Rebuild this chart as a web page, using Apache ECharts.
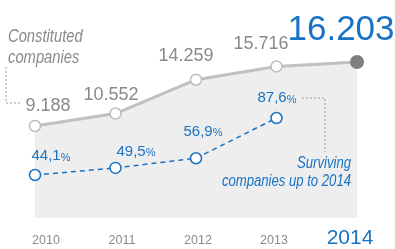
<!DOCTYPE html>
<html>
<head>
<meta charset="utf-8">
<script src="https://cdn.jsdelivr.net/npm/echarts@6/dist/echarts.min.js"></script>
<style>
  html, body { margin: 0; padding: 0; background: #fff; }
  #chart { width: 395px; height: 249px; }
</style>
</head>
<body>
<div id="chart"></div>
<script>
var years = ['2010', '2011', '2012', '2013', '2014'];
var constituted = [9188, 10552, 14259, 15716, 16203];   // companies constituted
var surviving = [44.1, 49.5, 56.9, 87.6];               // % surviving up to 2014

var FONT = '"Liberation Sans", Arial, sans-serif';
var GREY_TXT = '#8a8a8a';
var BLUE = '#1a72c2';

function thousands(v) {
  var r = String(v % 1000);
  while (r.length < 3) r = '0' + r;
  return Math.floor(v / 1000) + '.' + r;
}
function pct(v) {
  return v.toFixed(1).replace('.', ',');
}

// label offsets from each point (x, y)
var greyShift = [[13, -19.5], [-4.5, -18.5], [-10, -24], [-15.5, -22], [-16, -32]];
var blueShift = [[16, -19], [20.5, -16], [7, -26.5], [0.5, -20]];

var greyData = constituted.map(function (v, i) {
  var last = i === constituted.length - 1;
  return {
    value: v,
    symbolSize: last ? 14 : 11,
    itemStyle: last ? { color: '#7f7f7f', borderWidth: 0 } : { color: '#fff', borderColor: '#bdbdbd', borderWidth: 1.5 },
    label: {
      show: true,
      position: 'inside',
      offset: greyShift[i],
      formatter: thousands(v),
      fontFamily: FONT,
      fontSize: last ? 35 : 18,
      color: last ? BLUE : GREY_TXT
    }
  };
});

var blueData = surviving.map(function (v, i) {
  return {
    value: v,
    label: {
      show: true,
      position: 'inside',
      offset: blueShift[i],
      formatter: '{n|' + pct(v) + '}{p|%}'
    }
  };
});

var chart = echarts.init(document.getElementById('chart'), null, { renderer: 'canvas' });

var option = {
  animation: false,
  backgroundColor: '#fff',
  grid: [
    { left: 35, right: 38, top: 10, bottom: 31, outerBoundsMode: 'none' },
    { left: 8, right: 7, top: 10, bottom: 31, outerBoundsMode: 'none' }
  ],
  xAxis: [
    { type: 'category', gridIndex: 0, data: years, boundaryGap: false, show: false },
    {
      type: 'category', gridIndex: 1, boundaryGap: true,
      data: years.map(function (y, i) {
        return i === years.length - 1
          ? { value: y, textStyle: { fontSize: 21, color: BLUE, lineHeight: 18 } }
          : y;
      }),
      axisLine: { show: false }, axisTick: { show: false }, splitLine: { show: false },
      axisLabel: { margin: 11, lineHeight: 24, fontFamily: FONT, fontSize: 12.5, color: GREY_TXT }
    }
  ],
  yAxis: [
    { type: 'value', gridIndex: 0, min: -900, max: 21900, show: false },
    { type: 'value', gridIndex: 0, min: 11.3, max: 170, show: false },
    { type: 'value', gridIndex: 1, show: false }
  ],
  series: [
    {
      type: 'line',
      xAxisIndex: 0, yAxisIndex: 0,
      data: greyData,
      symbol: 'circle',
      lineStyle: { color: '#c0c0c0', width: 3 },
      areaStyle: { color: '#eeeeee', origin: 'start', opacity: 1 },
      z: 2
    },
    {
      type: 'line',
      xAxisIndex: 0, yAxisIndex: 1,
      data: blueData,
      symbol: 'circle',
      symbolSize: 11,
      itemStyle: { color: '#fff', borderColor: BLUE, borderWidth: 1.5 },
      lineStyle: { color: BLUE, width: 1.5, type: [5, 4] },
      label: {
        rich: {
          n: { fontFamily: FONT, fontSize: 15, color: BLUE },
          p: { fontFamily: FONT, fontSize: 11, color: BLUE, padding: [3, 0, 0, 0] }
        }
      },
      z: 3
    }
  ],
  graphic: [
    {
      type: 'text', x: 8, y: 26, scaleX: 0.82, z: 10,
      style: {
        text: 'Constituted\ncompanies',
        font: 'italic 18px ' + FONT,
        fill: GREY_TXT,
        lineHeight: 21
      }
    },
    {
      type: 'polyline', z: 10,
      shape: { points: [[6, 67], [6, 103], [22, 103]] },
      style: { stroke: '#9a9a9a', lineWidth: 1, lineDash: [2, 2], fill: null }
    },
    {
      type: 'text', x: 351, y: 155, scaleX: 0.82, z: 10,
      style: {
        text: 'Surviving\ncompanies up to 2014',
        font: 'italic 16px ' + FONT,
        fill: BLUE,
        align: 'right',
        lineHeight: 18
      }
    },
    {
      type: 'polyline', z: 10,
      shape: { points: [[302, 98], [325, 98], [325, 152]] },
      style: { stroke: '#9a9a9a', lineWidth: 1, lineDash: [2, 2], fill: null }
    }
  ]
};

chart.setOption(option);
</script>
</body>
</html>
